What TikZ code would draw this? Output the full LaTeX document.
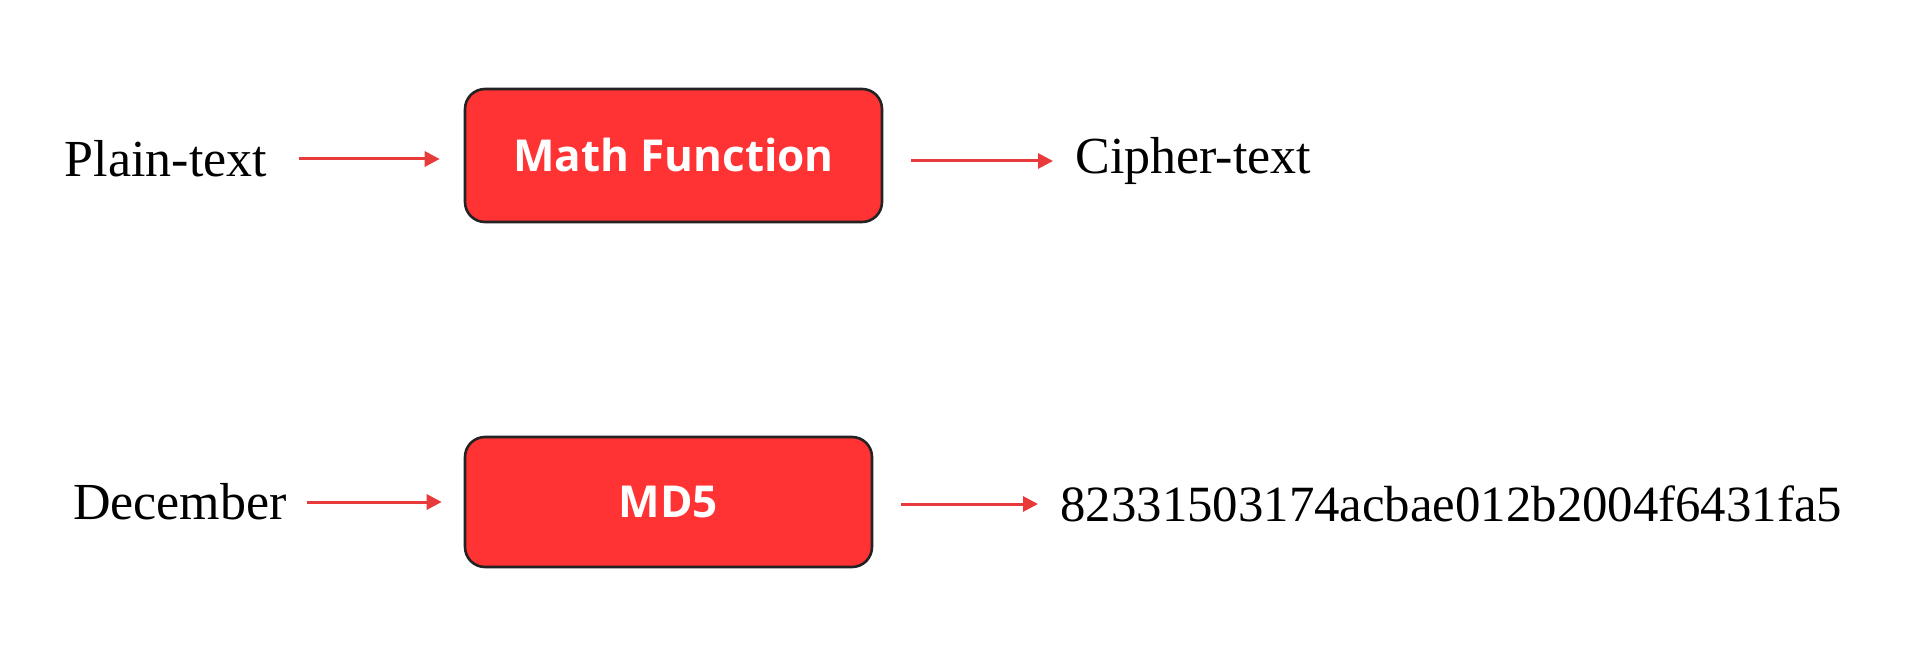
\documentclass[tikz,border=0pt]{standalone}
\usepackage{fontspec}
\setmainfont{Liberation Serif}
\newfontfamily\boxfont{Open Sans}
\usetikzlibrary{arrows.meta}
\definecolor{boxred}{RGB}{255,51,51}
\definecolor{arrowred}{RGB}{232,58,58}
\definecolor{edgedark}{RGB}{35,35,35}
\begin{document}
\begin{tikzpicture}[x=0.5pt,y=-0.5pt,
  lbl/.style={font=\fontsize{26}{30}\selectfont, inner sep=0pt},
  fnbox/.style={draw=edgedark, line width=1.3pt, fill=boxred, rounded corners=10pt,
    font=\boxfont\bfseries\fontsize{22}{26}\selectfont, text=white, inner sep=0pt},
  conn/.style={draw=arrowred, line width=1.5pt, -{Triangle[length=7.5pt,width=7.5pt]}}]
\useasboundingbox[fill=white] (0,0) rectangle (1920,663);
% top row
\node[lbl] (pt) at (166,159) {Plain-text};
\node[fnbox, minimum width=208.5pt, minimum height=66.5pt] (mf) at (673.5,155.5) {Math Function};
\node[lbl, anchor=west] (ct) at (1075,161) {Cipher-text};
\draw[conn, shorten <=16pt, shorten >=12pt] (pt.east) -- (pt.east -| mf.west);
\draw[conn, shorten <=14pt, shorten >=11pt] (ct.west -| mf.east) -- (ct.west);
% bottom row
\node[lbl] (dec) at (180,502) {December};
\node[fnbox, minimum width=203.5pt, minimum height=65pt] (md) at (668.5,502) {MD5};
\node[lbl, anchor=west, font=\fontsize{25.4}{30}\selectfont] (hash) at (1060,504) {82331503174acbae012b2004f6431fa5};
\draw[conn, shorten <=10pt, shorten >=11pt] (dec.east) -- (dec.east -| md.west);
\draw[conn, shorten <=14pt, shorten >=11pt] (hash.west -| md.east) -- (hash.west);
\end{tikzpicture}
\end{document}
